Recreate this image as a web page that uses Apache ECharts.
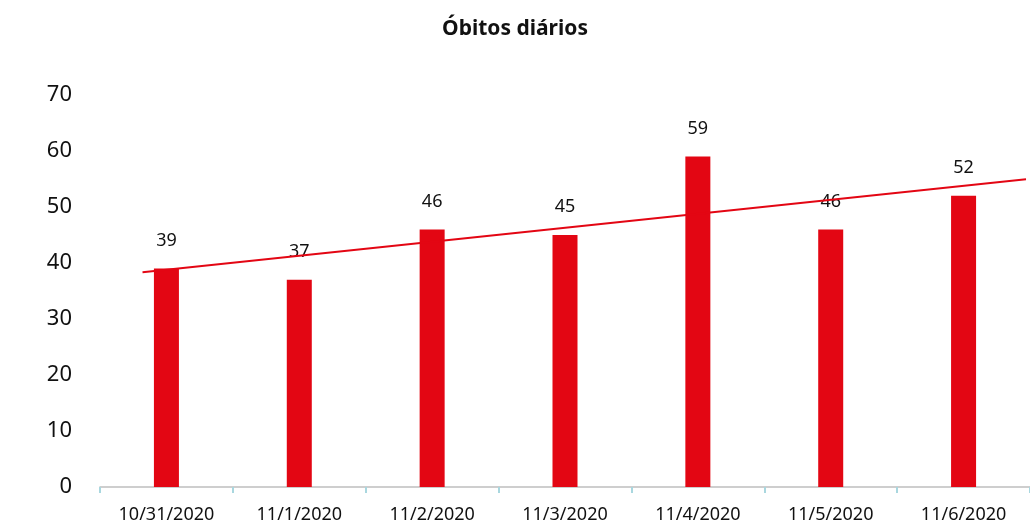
<!DOCTYPE html>
<html lang="pt">
<head>
    <meta charset="utf-8"/>
    <title>Óbitos diários</title>
    <script src="https://cdn.jsdelivr.net/npm/echarts@6/dist/echarts.min.js"></script>
    <style>
        html, body { margin: 0; padding: 0; background: #fff; }
        #chart { width: 1030px; height: 526px; }
    </style>
</head>
<body>
<div id="chart"></div>
<script>
    // dados
    var dias = ['10/31/2020', '11/1/2020', '11/2/2020', '11/3/2020', '11/4/2020', '11/5/2020', '11/6/2020'];
    var obitos = [39, 37, 46, 45, 59, 46, 52];
    // linha de tendência (pontos extremos)
    var tendenciaX = [0.82, 7.47];
    var tendenciaY = [38.35, 54.95];

    var fonte = '"Noto Sans", "DejaVu Sans", sans-serif';
    var myChart = echarts.init(document.getElementById('chart'));
    var options = {
        animation: false,
        title: {
            text: 'Óbitos diários',
            left: 'center',
            top: 14,
            textStyle: { fontFamily: fonte, fontSize: 21, fontWeight: 'bold', color: '#111' }
        },
        grid: { left: 100, right: 0, top: 95, bottom: 39 },
        xAxis: [{
            type: 'category',
            data: dias,
            axisLine: { lineStyle: { color: '#bfbfbf', width: 1.5 } },
            axisTick: { show: true, length: 6, lineStyle: { color: '#a9d7df', width: 2 } },
            axisLabel: { fontFamily: fonte, fontSize: 18, color: '#111', margin: 19 }
        }, {
            type: 'value',
            min: 0.5,
            max: 7.5,
            show: false
        }],
        yAxis: {
            type: 'value',
            min: 0,
            max: 70,
            interval: 10,
            axisLine: { show: false },
            axisTick: { show: false },
            splitLine: { show: false },
            axisLabel: { fontFamily: fonte, fontSize: 22, color: '#111', margin: 28 }
        },
        series: [{
            name: 'Óbitos',
            type: 'bar',
            data: obitos,
            barWidth: 25,
            itemStyle: { color: '#e30613' },
            label: {
                show: true,
                position: 'top',
                distance: 19,
                fontFamily: fonte,
                fontSize: 18,
                color: '#111'
            },
            z: 2
        }, {
            name: 'Tendência',
            type: 'line',
            xAxisIndex: 1,
            data: tendenciaX.map(function (x, i) { return [x, tendenciaY[i]]; }),
            symbol: 'none',
            lineStyle: { color: '#e30613', width: 2 },
            z: 3
        }]
    };
    myChart.setOption(options);
</script>
</body>
</html>
